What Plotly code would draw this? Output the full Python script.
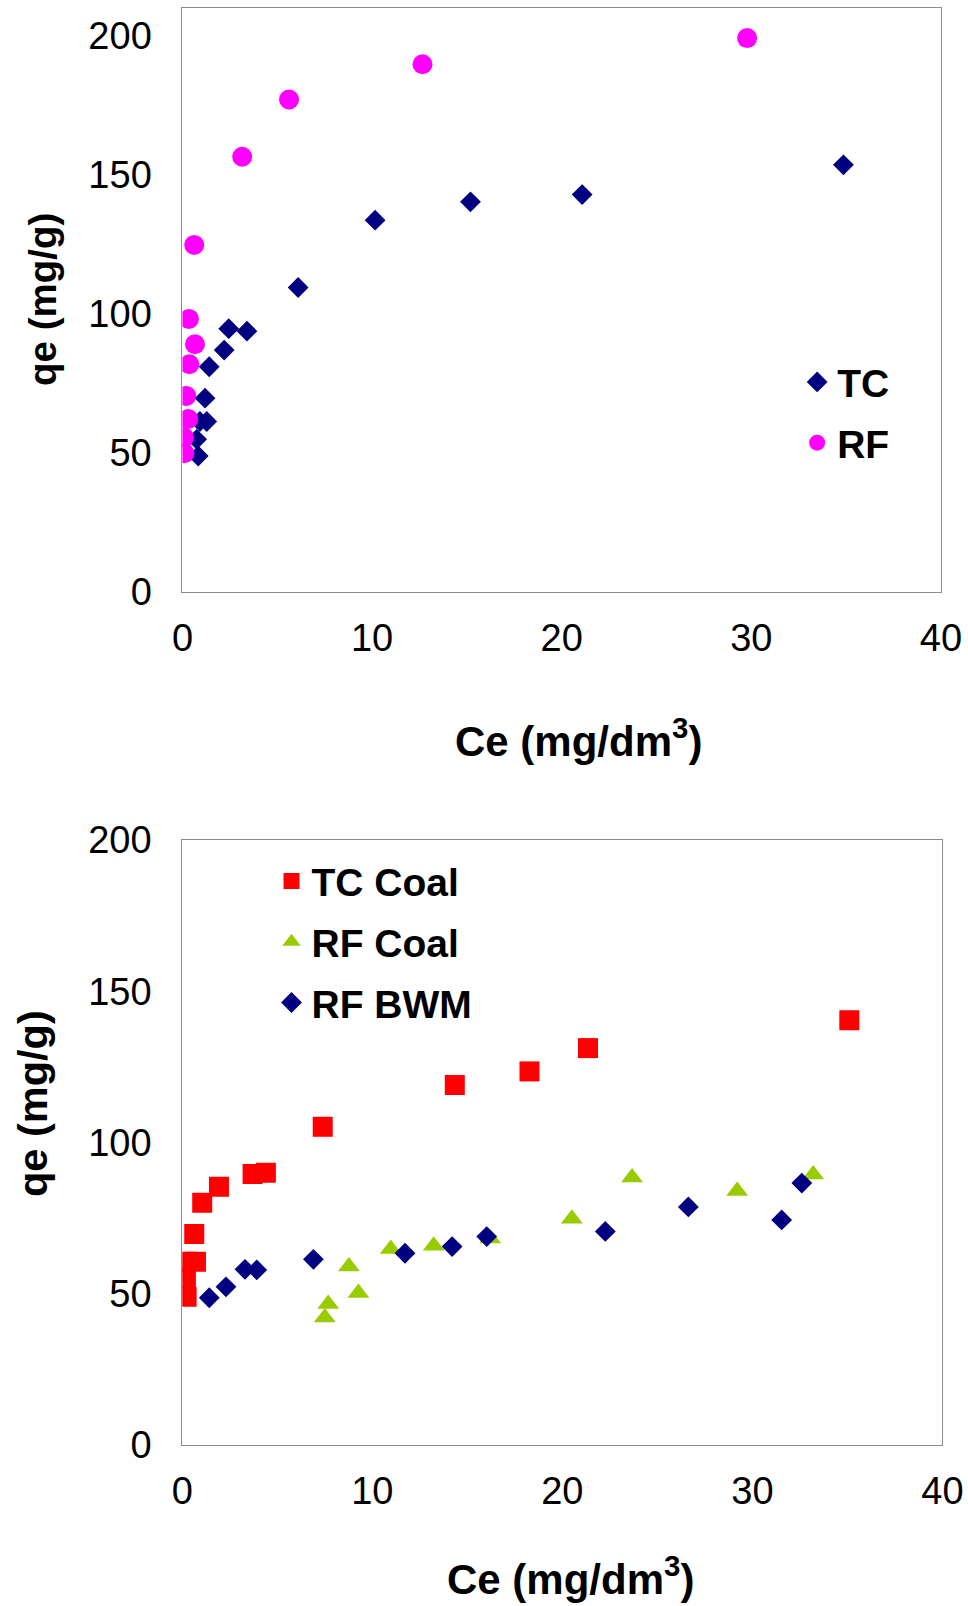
import plotly.graph_objects as go

# ---- Top chart data ----
tc_x = [0.83, 0.75, 0.92, 1.28, 1.19, 1.41, 2.2, 2.44, 3.4, 6.1, 10.16, 15.19, 21.08, 34.86]
tc_y = [48.9, 54.9, 61.3, 61.3, 69.7, 81.0, 87.0, 94.7, 93.8, 109.5, 133.7, 140.3, 142.9, 153.6]
rf_x = [0.1, 0.08, 0.31, 0.2, 0.36, 0.66, 0.34, 0.62, 3.15, 5.62, 12.66, 29.78]
rf_y = [49.9, 55.6, 62.2, 70.5, 81.9, 89.1, 98.2, 124.8, 156.5, 177.1, 189.8, 199.2]

# ---- Bottom chart data ----
tcc_x = [0.23, 0.19, 0.18, 0.72, 0.63, 1.05, 1.93, 3.7, 4.4, 7.39, 14.34, 18.27, 21.35, 35.1]
tcc_y = [49.0, 55.1, 60.6, 60.6, 69.8, 80.1, 85.4, 89.6, 90.0, 105.2, 119.0, 123.5, 131.2, 140.4]
rfc_x = [7.5, 7.68, 8.77, 9.27, 10.97, 13.23, 16.2, 20.5, 23.67, 29.2, 33.2]
rfc_y = [42.2, 46.6, 59.0, 50.3, 64.8, 65.9, 68.3, 74.8, 88.4, 84.0, 89.4]
bwm_x = [1.42, 2.3, 3.3, 3.92, 6.9, 11.72, 14.2, 16.02, 22.26, 26.63, 31.54, 32.6]
bwm_y = [48.7, 52.3, 58.1, 57.9, 61.4, 63.4, 65.6, 68.9, 70.6, 78.7, 74.4, 86.6]

x_ticks = [0, 10, 20, 30, 40]
y_ticks = [0, 50, 100, 150, 200]

FONT = "Liberation Sans, Arial, sans-serif"
NAVY = "#000080"
MAGENTA = "#FF00FF"
RED = "#FF0000"
GREEN = "#99CC00"

fig = go.Figure()

fig.add_trace(go.Scatter(x=tc_x, y=tc_y, mode="markers", name="TC",
                         marker=dict(symbol="diamond", size=16, color=NAVY),
                         xaxis="x", yaxis="y", legend="legend", legendgroup="a"))
fig.add_trace(go.Scatter(x=rf_x, y=rf_y, mode="markers", name="RF",
                         marker=dict(symbol="circle", size=20, color=MAGENTA),
                         xaxis="x", yaxis="y", legend="legend", legendgroup="b"))

fig.add_trace(go.Scatter(x=tcc_x, y=tcc_y, mode="markers", name="TC Coal",
                         marker=dict(symbol="square", size=20, color=RED),
                         xaxis="x2", yaxis="y2", legend="legend2", legendgroup="c"))
fig.add_trace(go.Scatter(x=rfc_x, y=rfc_y, mode="markers", name="RF Coal",
                         marker=dict(symbol="triangle-up", size=19, color=GREEN),
                         xaxis="x2", yaxis="y2", legend="legend2", legendgroup="d"))
fig.add_trace(go.Scatter(x=bwm_x, y=bwm_y, mode="markers", name="RF BWM",
                         marker=dict(symbol="diamond", size=16, color=NAVY),
                         xaxis="x2", yaxis="y2", legend="legend2", legendgroup="e"))

axis_common = dict(showline=True, linecolor="#8C8C8C", linewidth=1.2, mirror=True,
                   showgrid=False, zeroline=False, ticks="", automargin=False,
                   tickfont=dict(family=FONT, size=38, color="black"))

legend_font = dict(family=FONT, size=39, color="black", weight="bold")

fig.update_layout(
    width=968, height=1606,
    margin=dict(l=0, r=0, t=0, b=0, autoexpand=False),
    paper_bgcolor="white", plot_bgcolor="white",
    font=dict(family=FONT, color="black"),
    xaxis=dict(domain=[0.1885, 0.972], range=[0, 40], tickvals=x_ticks,
               ticklabelstandoff=12, anchor="y", **axis_common),
    yaxis=dict(domain=[0.6314, 0.995], range=[0, 210], tickvals=y_ticks,
               ticklabelstandoff=22, anchor="x", **axis_common),
    xaxis2=dict(domain=[0.1883, 0.9736], range=[0, 40], tickvals=x_ticks,
                ticklabelstandoff=12, anchor="y2", **axis_common),
    yaxis2=dict(domain=[0.1002, 0.4770], range=[0, 200], tickvals=y_ticks,
                ticklabelstandoff=22, anchor="x2", **axis_common),
    legend=dict(x=0.8235, y=0.782, xanchor="left", yanchor="top",
                font=legend_font, bgcolor="rgba(0,0,0,0)", tracegroupgap=7),
    legend2=dict(x=0.2805, y=0.4712, xanchor="left", yanchor="top",
                 font=legend_font, bgcolor="rgba(0,0,0,0)", tracegroupgap=7),
    showlegend=True,
)

fig.add_annotation(text="Ce (mg/dm<sup>3</sup>)", x=578 / 968, y=1 - 738 / 1606, xref="paper", yref="paper",
                   showarrow=False, xanchor="center", yanchor="middle",
                   font=dict(family=FONT, size=42, color="black", weight="bold"))
fig.add_annotation(text="Ce (mg/dm<sup>3</sup>)", x=570 / 968, y=1 - 1576 / 1606, xref="paper", yref="paper",
                   showarrow=False, xanchor="center", yanchor="middle",
                   font=dict(family=FONT, size=42, color="black", weight="bold"))
fig.add_annotation(text="qe (mg/g)", x=43 / 968, y=1 - 300 / 1606, xref="paper", yref="paper",
                   showarrow=False, xanchor="center", yanchor="middle", textangle=-90,
                   font=dict(family=FONT, size=38.5, color="black", weight="bold"))
fig.add_annotation(text="qe (mg/g)", x=32 / 968, y=1 - 1104 / 1606, xref="paper", yref="paper",
                   showarrow=False, xanchor="center", yanchor="middle", textangle=-90,
                   font=dict(family=FONT, size=41.5, color="black", weight="bold"))

fig.write_html("out.html")
